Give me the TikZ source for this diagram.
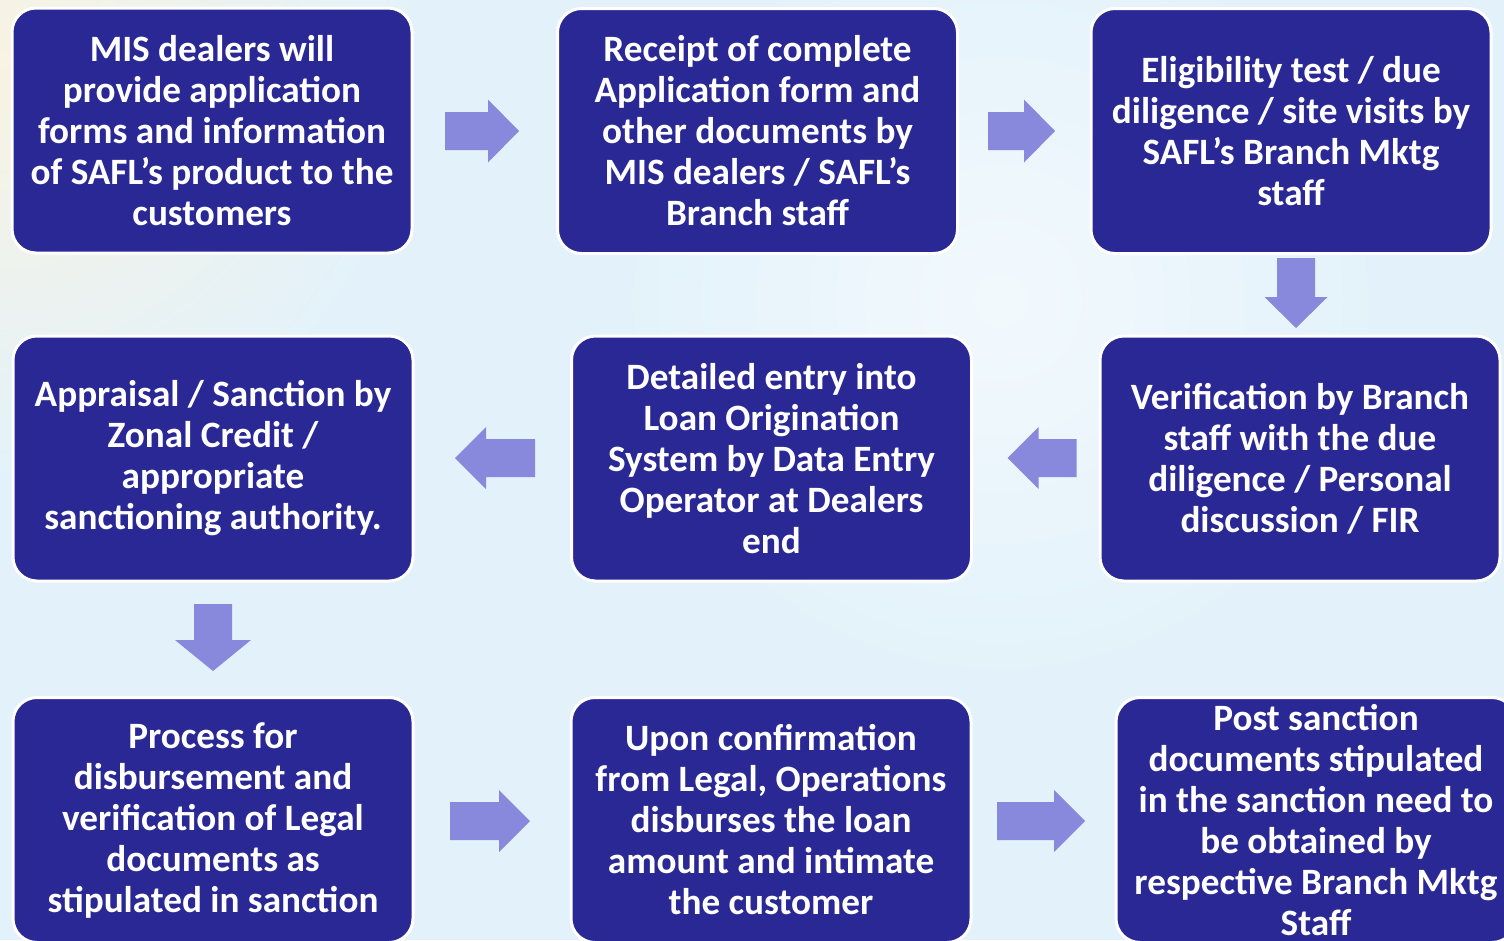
\documentclass[tikz,border=0pt]{standalone}
\usepackage{fontspec}
\setmainfont{Carlito}
\definecolor{boxblue}{HTML}{2A2895}
\definecolor{arrowblue}{HTML}{8888DD}
\definecolor{bglight}{HTML}{E3F2FA}
\definecolor{bgcream}{HTML}{F8F3E2}
\definecolor{bgpale}{HTML}{F2F9FD}
\tikzset{
  stepbox/.style={draw=white, line width=3pt, fill=boxblue, rounded corners=24pt,
    minimum width=400pt, minimum height=245pt, inner sep=0pt, text=white,
    align=center, font=\bfseries\fontsize{37.2}{41}\selectfont},
  blockarrow/.style={fill=arrowblue, draw=none}
}
\newcommand\barrowat[5]{% x, y, angle, length, head half width
  \fill[blockarrow, shift={(#1,#2)}, rotate=#3]
    (-#4/2,-19) -- (#4/2-31,-19) -- (#4/2-31,-#5) -- (#4/2,0) -- (#4/2-31,#5) -- (#4/2-31,19) -- (-#4/2,19) -- cycle;}
\begin{document}
\begin{tikzpicture}[x=1pt,y=-1pt]
\useasboundingbox (0,0) rectangle (1504,940);
\begin{scope}
  \clip (0,0) rectangle (1504,940);
  \fill[bglight] (0,0) rectangle (1504,940);
  \shade[inner color=bgcream, outer color=bglight] (0,60) circle (420);
  \shade[inner color=bgpale, outer color=bglight] (1000,300) circle (380);

\node[stepbox] (b1) at (212,130.5) {MIS dealers will\\provide application\\forms and information\\of SAFL’s product to the\\customers};
\node[stepbox] (b2) at (757.5,131) {Receipt of complete\\Application form and\\other documents by\\MIS dealers / SAFL’s\\Branch staff};
\node[stepbox] (b3) at (1291,131) {Eligibility test / due\\diligence / site visits by\\SAFL’s Branch Mktg\\staff};
\node[stepbox] (b4) at (213,458.5) {Appraisal / Sanction by\\Zonal Credit /\\appropriate\\sanctioning authority.};
\node[stepbox] (b5) at (771.5,458.5) {Detailed entry into\\Loan Origination\\System by Data Entry\\Operator at Dealers\\end};
\node[stepbox] (b6) at (1300,458.5) {Verification by Branch\\staff with the due\\diligence / Personal\\discussion / FIR};
\node[stepbox] (b7) at (213,820) {Process for\\disbursement and\\verification of Legal\\documents as\\stipulated in sanction};
\node[stepbox] (b8) at (771,820) {Upon confirmation\\from Legal, Operations\\disburses the loan\\amount and intimate\\the customer};
\node[stepbox] (b9) at (1316,820) {Post sanction\\documents stipulated\\in the sanction need to\\be obtained by\\respective Branch Mktg\\Staff};

\barrowat{482}{131}{0}{74}{31.5}
\barrowat{1021.5}{131}{0}{67}{31.5}
\barrowat{1296}{293}{-90}{70}{31.5}
\barrowat{1042}{458}{180}{69}{31}
\barrowat{495}{458}{180}{80}{31}
\barrowat{213}{637.5}{-90}{67}{38}
\barrowat{490}{821}{0}{80}{31}
\barrowat{1041}{821}{0}{88}{31}
\end{scope}
\end{tikzpicture}
\end{document}
